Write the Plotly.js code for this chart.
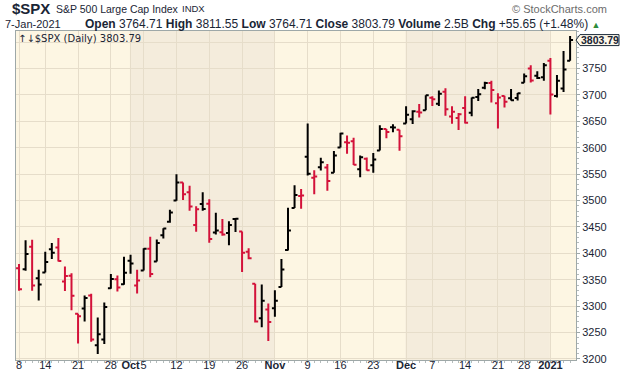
<!DOCTYPE html>
<html>
<head>
<meta charset="utf-8">
<script src="https://cdn.plot.ly/plotly-3.0.1.min.js"></script>
<style>html,body{margin:0;padding:0;background:#fff;}#chart{width:620px;height:376px;}</style>
</head>
<body>
<div id="chart"></div>
<script>
const dates = ["2020-09-08","2020-09-09","2020-09-10","2020-09-11","2020-09-14","2020-09-15","2020-09-16","2020-09-17","2020-09-18","2020-09-21","2020-09-22","2020-09-23","2020-09-24","2020-09-25","2020-09-28","2020-09-29","2020-09-30",
"2020-10-01","2020-10-02","2020-10-05","2020-10-06","2020-10-07","2020-10-08","2020-10-09","2020-10-12","2020-10-13","2020-10-14","2020-10-15","2020-10-16","2020-10-19","2020-10-20","2020-10-21","2020-10-22","2020-10-23","2020-10-26","2020-10-27","2020-10-28","2020-10-29","2020-10-30",
"2020-11-02","2020-11-03","2020-11-04","2020-11-05","2020-11-06","2020-11-09","2020-11-10","2020-11-11","2020-11-12","2020-11-13","2020-11-16","2020-11-17","2020-11-18","2020-11-19","2020-11-20","2020-11-23","2020-11-24","2020-11-25","2020-11-27","2020-11-30",
"2020-12-01","2020-12-02","2020-12-03","2020-12-04","2020-12-07","2020-12-08","2020-12-09","2020-12-10","2020-12-11","2020-12-14","2020-12-15","2020-12-16","2020-12-17","2020-12-18","2020-12-21","2020-12-22","2020-12-23","2020-12-24","2020-12-28","2020-12-29","2020-12-30","2020-12-31",
"2021-01-04","2021-01-05","2021-01-06","2021-01-07"];
const open = [3371.88,3369.82,3412.56,3352.70,3363.56,3407.73,3411.23,3346.86,3357.38,3285.57,3295.75,3320.11,3226.14,3236.66,3333.90,3350.92,3341.21,
3385.87,3338.94,3367.27,3408.74,3384.56,3434.28,3459.67,3500.02,3534.01,3515.47,3453.72,3493.50,3493.66,3439.38,3439.91,3438.50,3464.90,3441.42,3403.15,3342.48,3277.17,3293.59,
3296.20,3336.25,3406.46,3485.74,3508.34,3583.04,3543.26,3563.22,3562.67,3552.57,3600.16,3610.31,3612.09,3559.41,3579.31,3566.82,3594.52,3635.50,3638.55,3634.18,
3645.87,3653.78,3668.28,3670.94,3694.73,3683.05,3705.98,3659.13,3656.08,3675.27,3666.41,3696.25,3713.65,3722.39,3684.28,3698.08,3693.42,3694.03,3723.03,3750.01,3736.19,3733.27,
3764.61,3698.02,3712.20,3764.71];
const high = [3379.97,3424.77,3425.55,3368.95,3402.93,3419.48,3428.92,3375.17,3362.27,3285.57,3320.31,3323.35,3278.70,3306.88,3360.74,3357.92,3393.56,
3397.18,3369.10,3409.57,3431.56,3426.26,3447.28,3482.34,3549.85,3534.01,3527.94,3489.08,3515.76,3502.42,3476.93,3464.86,3460.53,3466.46,3441.42,3409.51,3342.48,3341.05,3304.93,
3330.14,3389.49,3486.25,3529.05,3521.58,3645.99,3557.22,3581.16,3569.02,3593.66,3628.51,3623.11,3619.09,3585.22,3581.23,3589.81,3642.31,3635.50,3644.31,3634.18,
3678.45,3670.96,3682.73,3699.20,3697.41,3708.45,3712.39,3678.49,3665.91,3697.61,3695.29,3711.27,3725.12,3726.70,3702.90,3698.26,3711.24,3703.82,3740.51,3756.12,3744.63,3760.20,
3769.99,3737.83,3783.04,3811.55];
const low = [3329.27,3366.84,3329.25,3310.47,3363.56,3389.25,3384.45,3328.82,3292.40,3229.10,3270.95,3232.57,3209.45,3228.44,3332.91,3327.54,3340.47,
3361.39,3323.69,3367.27,3354.54,3384.56,3428.15,3458.07,3499.61,3500.86,3480.55,3440.89,3480.45,3419.93,3435.65,3433.06,3415.34,3440.45,3364.86,3388.71,3268.89,3259.82,3233.94,
3279.74,3336.25,3405.17,3485.74,3484.34,3547.48,3511.91,3557.00,3518.58,3552.57,3600.16,3588.68,3567.33,3543.84,3556.85,3552.77,3594.52,3617.76,3629.33,3594.39,
3645.87,3644.84,3657.17,3670.94,3678.88,3678.83,3660.54,3645.18,3633.40,3645.84,3659.62,3688.57,3710.87,3685.84,3636.48,3676.16,3689.28,3689.32,3723.03,3723.31,3730.21,3726.88,
3662.71,3695.07,3705.34,3764.71];
const close = [3331.84,3398.96,3339.19,3340.97,3383.54,3401.20,3385.49,3357.01,3319.47,3281.06,3315.57,3236.92,3246.59,3298.46,3351.60,3335.47,3363.00,
3380.80,3348.42,3408.63,3360.95,3419.44,3446.83,3477.14,3534.22,3511.93,3488.67,3483.34,3483.81,3426.92,3443.12,3435.56,3453.49,3465.39,3400.97,3390.68,3271.03,3310.11,3269.96,
3310.24,3369.16,3443.44,3510.45,3509.44,3550.50,3545.53,3572.66,3537.01,3585.15,3626.91,3609.53,3567.79,3581.87,3557.54,3577.59,3635.41,3629.65,3638.35,3621.63,
3662.45,3669.01,3666.72,3699.12,3691.96,3702.25,3672.82,3668.10,3663.46,3647.49,3694.62,3701.17,3722.48,3709.41,3694.92,3687.26,3690.01,3703.06,3735.36,3727.04,3732.04,3756.07,
3700.65,3726.86,3748.14,3803.79];
const priorClose = 3426.96;   // close of 4-Sep-2020
const lastVolume = "2.5B";

const tickDates  = ["2020-09-08","2020-09-14","2020-09-21","2020-09-28","2020-10-01","2020-10-05","2020-10-12","2020-10-19","2020-10-26","2020-11-02","2020-11-09","2020-11-16","2020-11-23","2020-12-01","2020-12-07","2020-12-14","2020-12-21","2020-12-28","2021-01-04"];
const tickLabels = ["8","14","21","28","<b>Oct</b>","5","12","19","26","<b>Nov</b>","9","16","23","<b>Dec</b>","7","14","21","28","<b>2021</b>"];
const monthStarts = ["2020-10-01","2020-11-02","2020-12-01","2021-01-04"];
const priceTicks = [3200,3250,3300,3350,3400,3450,3500,3550,3600,3650,3700,3750,3800];

const RED = '#d3123a', BLACK = '#000000';
const up = {x:[],o:[],h:[],l:[],c:[]}, dn = {x:[],o:[],h:[],l:[],c:[]};
close.forEach((c,i)=>{
  const prev = i===0 ? priorClose : close[i-1];
  const t = c >= prev ? up : dn;
  t.x.push(i); t.o.push(open[i]); t.h.push(high[i]); t.l.push(low[i]); t.c.push(c);
});
function ohlcTrace(s,color){
  return {type:'ohlc', x:s.x, open:s.o, high:s.h, low:s.l, close:s.c, tickwidth:0.45,
    increasing:{line:{color:color,width:2}}, decreasing:{line:{color:color,width:2}},
    hoverinfo:'skip', showlegend:false};
}

const n = dates.length, last = n-1;
const shapes = [];
[[0,1],[2,3]].forEach(([a,b])=>{
  shapes.push({type:'rect', xref:'x', yref:'paper', x0:dates.indexOf(monthStarts[a])-0.1, x1:dates.indexOf(monthStarts[b])-0.1, y0:0, y1:1,
    fillcolor:'#f4ecdc', line:{width:0}, layer:'below'});
});
shapes.push({type:'path', xref:'paper', xsizemode:'pixel', xanchor:1, yref:'y', ysizemode:'pixel', yanchor:close[last],
  path:'M 0,0 L 4,5.5 L 43,5.5 L 43,-5.5 L 4,-5.5 Z', fillcolor:'#fdf8ea', line:{color:'#1c2b3a', width:1}, layer:'above'});

const fmt = v => v.toFixed(2);
const chg = close[last]-close[last-1];
const pct = chg/close[last-1]*100;
const d = new Date(dates[last]+'T00:00:00');
const mon = ['Jan','Feb','Mar','Apr','May','Jun','Jul','Aug','Sep','Oct','Nov','Dec'][d.getMonth()];
const dateStr = d.getDate()+'-'+mon+'-'+d.getFullYear();
const txtC = '#1a2535';
const FAM = 'Liberation Sans, Arial, sans-serif';
const X0 = -16/560;   // paper x of the left page edge
const Y1 = 1+22/329, Y2 = 1+7.5/329;

const annotations = [
  {xref:'paper', yref:'paper', x:X0, y:Y1, xanchor:'left', yanchor:'middle', showarrow:false, borderpad:0,
   text:'<b>$SPX</b>', font:{family:FAM, size:15, color:txtC}, xshift:11},
  {xref:'paper', yref:'paper', x:X0, y:Y1, xanchor:'left', yanchor:'middle', showarrow:false, borderpad:0,
   text:'S&amp;P 500 Large Cap Index', font:{family:FAM, size:10.5, color:txtC}, xshift:55},
  {xref:'paper', yref:'paper', x:X0, y:Y1, xanchor:'left', yanchor:'middle', showarrow:false, borderpad:0,
   text:'INDX', font:{family:FAM, size:9.5, color:txtC}, xshift:181},
  {xref:'paper', yref:'paper', x:1+44/560, y:Y1, xanchor:'right', yanchor:'middle', showarrow:false, borderpad:0,
   text:'© StockCharts.com', font:{family:FAM, size:11, color:'#6b6b6b'}, xshift:-12},
  {xref:'paper', yref:'paper', x:X0, y:Y2, xanchor:'left', yanchor:'middle', showarrow:false, borderpad:0,
   text:dateStr, font:{family:FAM, size:11, color:txtC}, xshift:4},
  {xref:'paper', yref:'paper', x:X0, y:Y2, xanchor:'left', yanchor:'middle', showarrow:false, borderpad:0,
   text:'<b>Open</b> '+fmt(open[last])+' <b>High</b> '+fmt(high[last])+' <b>Low</b> '+fmt(low[last])+' <b>Close</b> '+fmt(close[last])+
        ' <b>Volume</b> '+lastVolume+' <b>Chg</b> '+(chg>=0?'+':'')+fmt(chg)+' ('+(pct>=0?'+':'')+pct.toFixed(2)+'%) <span style="color:#2e8b3a;font-size:9px">▲</span>',
   font:{family:FAM, size:12, color:txtC}, xshift:84},
  {xref:'paper', yref:'paper', x:0, y:1, xanchor:'left', yanchor:'top', showarrow:false,
   text:'↑↓$SPX (Daily) '+fmt(close[last]), font:{family:'DejaVu Sans, sans-serif', size:10, color:txtC}, xshift:0, yshift:0},
  {xref:'paper', yref:'y', x:1, y:close[last], xanchor:'left', yanchor:'middle', showarrow:false,
   text:'<b>'+fmt(close[last])+'</b>', font:{family:FAM, size:10.5, color:txtC}, xshift:3}
];

const layout = {
  width:620, height:376,
  margin:{l:16, r:44, t:31, b:16, pad:0},
  paper_bgcolor:'#ffffff', plot_bgcolor:'#fdf6e3',
  showlegend:false,
  xaxis:{type:'linear', range:[-0.46, 84.9], tickvals:tickDates.map(t=>dates.indexOf(t)), ticktext:tickLabels,
    showgrid:true, gridcolor:'#e6ddca', gridwidth:1, zeroline:false,
    showline:true, linecolor:'#9ea8a8', linewidth:1, mirror:true, tickangle:0,
    ticks:'outside', ticklen:2, tickcolor:'#9ea8a8', ticklabelstandoff:-7,
    minor:{dtick:1, tick0:0, ticks:'outside', ticklen:2, tickcolor:'#b5bcbc', showgrid:false},
    tickfont:{family:FAM, size:11, color:txtC},
    rangeslider:{visible:false}, fixedrange:true},
  yaxis:{side:'right', range:[3198, 3821], tickvals:priceTicks, ticktext:priceTicks.map(v=>v===3800?'':String(v)),
    showgrid:true, gridcolor:'#e6ddca', gridwidth:1, zeroline:false,
    showline:true, linecolor:'#9ea8a8', linewidth:1, mirror:true,
    ticks:'outside', ticklen:3, tickcolor:'#9ea8a8',
    minor:{dtick:10, ticks:'outside', ticklen:2, tickcolor:'#b5bcbc', showgrid:false},
    tickfont:{family:FAM, size:11, color:txtC}, fixedrange:true},
  shapes:shapes,
  annotations:annotations
};

Plotly.newPlot('chart', [ohlcTrace(up,BLACK), ohlcTrace(dn,RED)], layout, {displayModeBar:false, staticPlot:true});
</script>
</body>
</html>
